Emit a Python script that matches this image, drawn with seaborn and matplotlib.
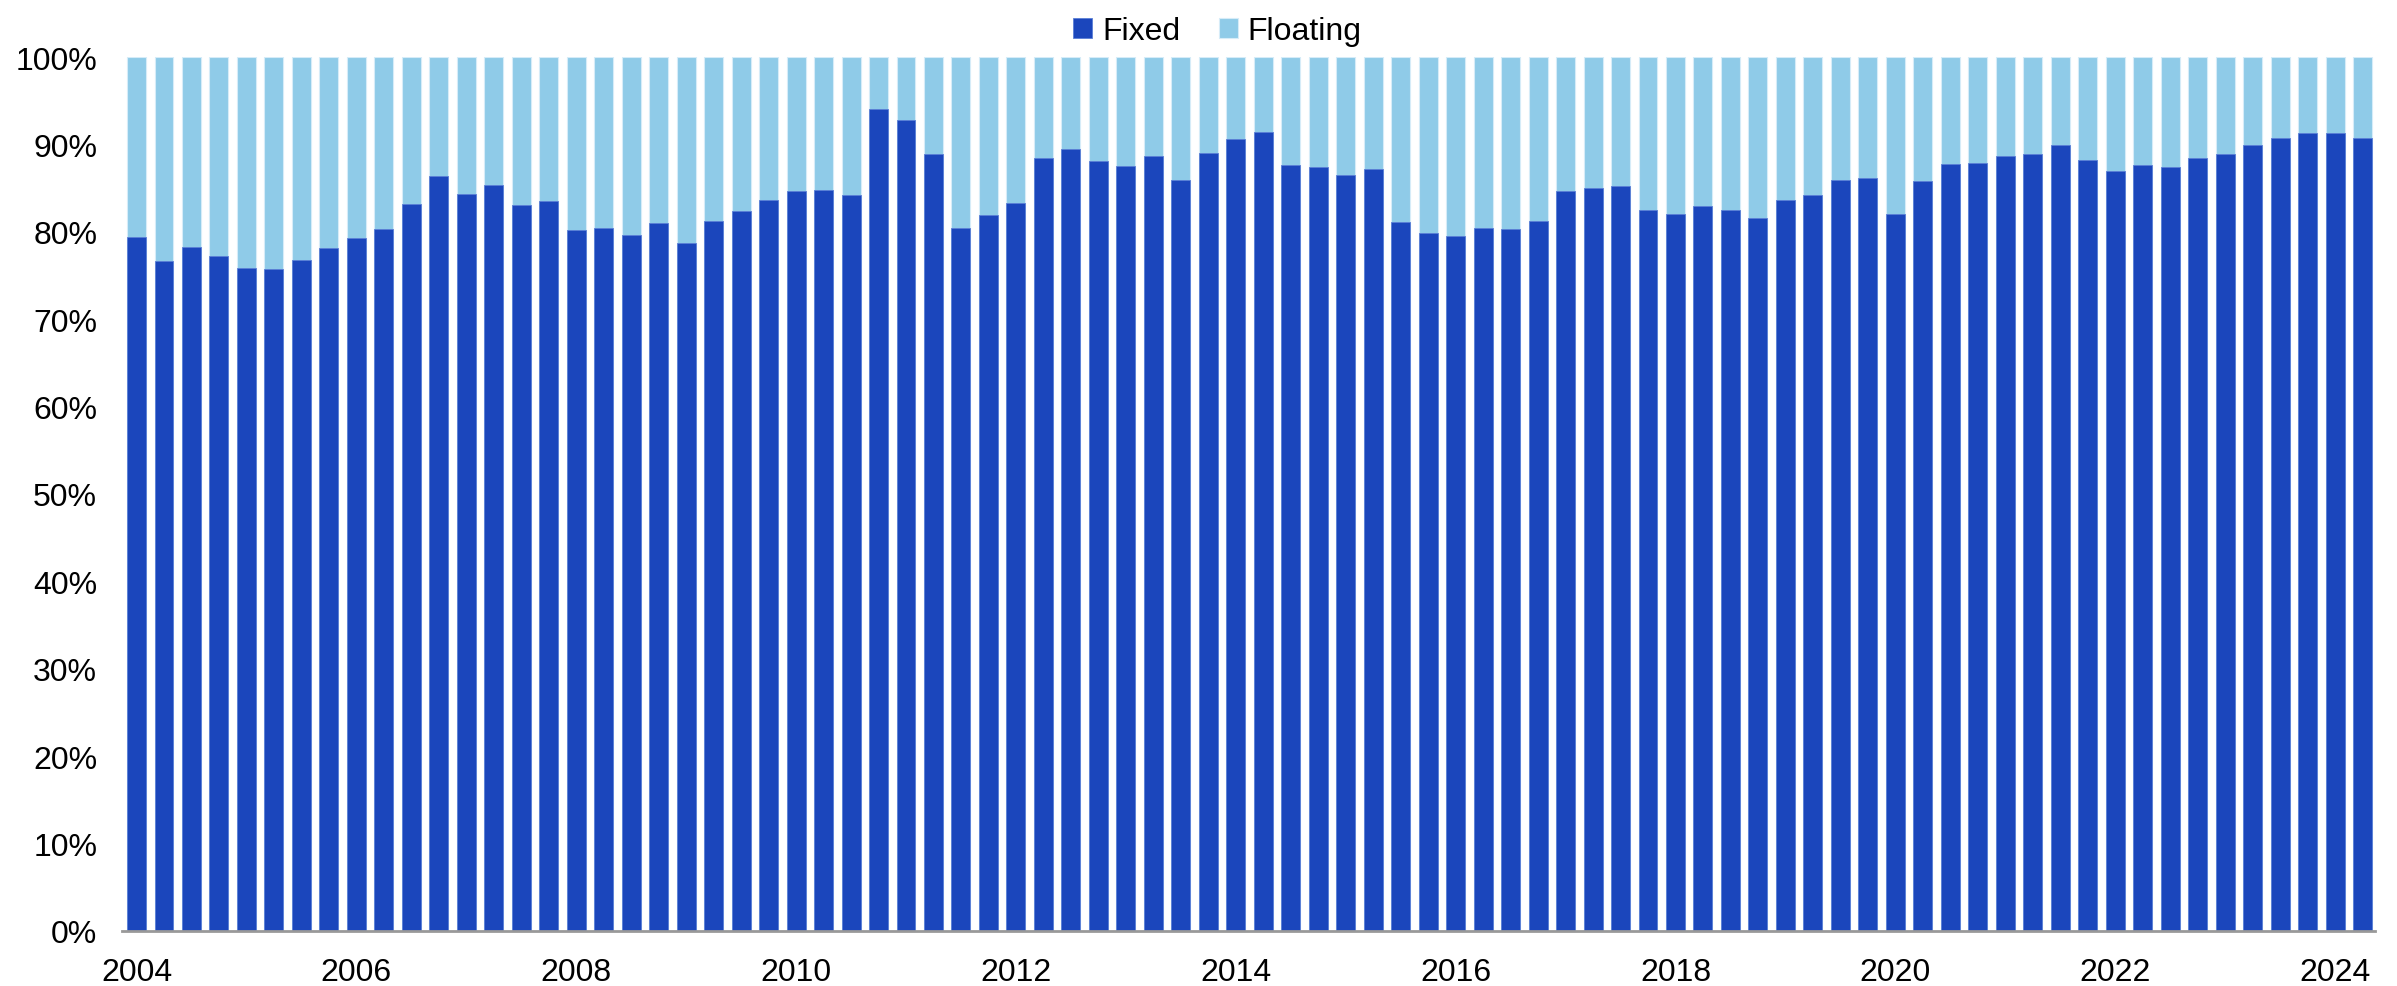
import pandas as pd
import matplotlib.pyplot as plt
import seaborn as sns

# quarterly share of fixed-rate, 2004Q1 .. 2024Q2
years = list(range(2004, 2025))
fixed = [
    79.4, 76.7, 78.3, 77.3, 75.9, 75.7, 76.8, 78.2,
    79.3, 80.3, 83.2, 86.4, 84.3, 85.4, 83.1, 83.5,
    80.2, 80.5, 79.7, 81.0, 78.7, 81.3, 82.4, 83.6,
    84.7, 84.8, 84.2, 94.1, 92.8, 88.9, 80.5, 81.9,
    83.3, 88.5, 89.5, 88.1, 87.6, 88.7, 86.0, 89.0,
    90.6, 91.4, 87.7, 87.4, 86.5, 87.2, 81.1, 79.9,
    79.5, 80.4, 80.3, 81.2, 84.7, 85.0, 85.3, 82.5,
    82.0, 83.0, 82.5, 81.6, 83.7, 84.2, 86.0, 86.2,
    82.0, 85.8, 87.8, 87.9, 88.7, 88.9, 90.0, 88.2,
    87.0, 87.7, 87.4, 88.5, 88.9, 90.0, 90.7, 91.3,
    91.3, 90.8,
]
periods = [f"{y}Q{q}" for y in years for q in range(1, 5)][:len(fixed)]
floating = [100 - v for v in fixed]

df = pd.DataFrame({"period": periods, "fixed": fixed, "floating": floating})
df["total"] = df["fixed"] + df["floating"]

c_fixed = "#1b46bc"
c_float = "#8fcbe8"

sns.set_theme(style="white")
plt.rcParams["font.family"] = ["Liberation Sans", "DejaVu Sans"]
plt.rcParams["text.color"] = "black"
plt.rcParams["xtick.color"] = "black"
plt.rcParams["ytick.color"] = "black"

fig, ax = plt.subplots(figsize=(23.97, 9.87), dpi=100)
fig.subplots_adjust(left=0.051, right=0.991, top=0.941, bottom=0.056)

sns.barplot(data=df, x="period", y="total", color=c_float, saturation=1,
            width=0.69, edgecolor="#d6ecf8", linewidth=0.8, ax=ax, label="Floating")
sns.barplot(data=df, x="period", y="fixed", color=c_fixed, saturation=1,
            width=0.69, edgecolor="#5a7fd6", linewidth=0.6, ax=ax, label="Fixed")

ax.set_ylim(0, 100)
ax.set_xlim(-0.52, len(fixed) - 0.53)
ax.set_yticks(range(0, 101, 10))
ax.set_yticklabels([f"{v}%" for v in range(0, 101, 10)], fontsize=23)
xt = [i for i, p in enumerate(periods) if p.endswith("Q1") and int(p[:4]) % 2 == 0]
ax.set_xticks(xt)
ax.set_xticklabels([periods[i][:4] for i in xt], fontsize=23)
ax.tick_params(axis="y", length=0, pad=18)
ax.tick_params(axis="x", length=0, pad=19)
ax.set_xlabel("")
ax.set_ylabel("")

sns.despine(ax=ax, left=True)
ax.spines["bottom"].set_color("#999999")
ax.spines["bottom"].set_linewidth(2)

h, l = ax.get_legend_handles_labels()
order = [l.index("Fixed"), l.index("Floating")]
ax.legend([h[i] for i in order], [l[i] for i in order], loc="upper center",
          bbox_to_anchor=(0.486, 1.08), ncol=2, frameon=False, fontsize=23,
          handlelength=0.6, handleheight=0.6, handletextpad=0.3, columnspacing=1.2)

plt.savefig("out.png")
plt.close()
